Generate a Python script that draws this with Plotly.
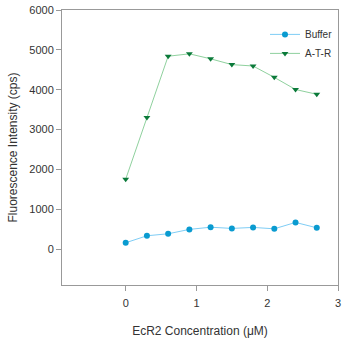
import plotly.graph_objects as go

conc = [0, 0.3, 0.6, 0.9, 1.2, 1.5, 1.8, 2.1, 2.4, 2.7]
buffer_vals = [160, 335, 385, 495, 550, 520, 545, 510, 670, 535]
atr_vals = [1755, 3300, 4840, 4900, 4775, 4630, 4595, 4310, 4005, 3885]

x_ticks = [0, 1, 2, 3]
y_ticks = [0, 1000, 2000, 3000, 4000, 5000, 6000]

fig = go.Figure()
fig.add_trace(go.Scatter(
    x=conc, y=buffer_vals, name="Buffer", mode="lines+markers",
    line=dict(color="#7fcdf5", width=1),
    marker=dict(symbol="circle", size=6, color="#0a9bd0"),
))
fig.add_trace(go.Scatter(
    x=conc, y=atr_vals, name="A-T-R", mode="lines+markers",
    line=dict(color="#8fd19e", width=1),
    marker=dict(symbol="triangle-down", size=6, color="#0b7a3a"),
))

axis_common = dict(
    showgrid=False, zeroline=False, showline=True, linecolor="#999999",
    linewidth=1, mirror=True, ticks="outside", ticklen=5, tickcolor="#999999",
    automargin=False,
    tickfont=dict(family="Liberation Sans, Arial", size=11, color="#333333"),
)

fig.update_layout(
    width=349, height=338,
    margin=dict(l=62, r=11, t=10, b=53),
    paper_bgcolor="white", plot_bgcolor="white",
    font=dict(family="Liberation Sans, Arial", size=11, color="#333333"),
    xaxis=dict(range=[-0.9, 3], tickvals=x_ticks, ticklabelstandoff=3,
               title=dict(text="EcR2 Concentration (μM)", standoff=20,
                          font=dict(size=12)), **axis_common),
    yaxis=dict(range=[-900, 6000], tickvals=y_ticks,
               title=dict(text="Fluorescence Intensity (cps)", standoff=9,
                          font=dict(size=12)), **axis_common),
    legend=dict(x=1, xanchor="right", y=0.964, yanchor="top",
                bgcolor="rgba(0,0,0,0)", font=dict(size=10),
                tracegroupgap=0, itemwidth=30),
    showlegend=True,
)

fig.write_html("out.html")
